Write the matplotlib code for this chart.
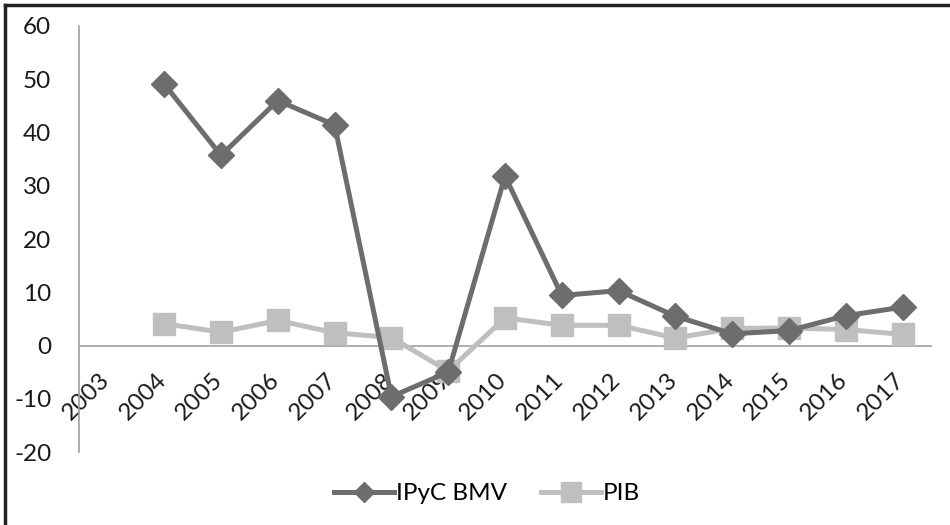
import numpy as np
import matplotlib.pyplot as plt
from matplotlib.transforms import ScaledTranslation
from matplotlib.lines import Line2D

years = [str(y) for y in range(2003, 2018)]
# 2003 has no data in either series
ipyc = [np.nan, 49.1, 35.7, 46.0, 41.4, -9.6, -5.0, 31.8, 9.4, 10.3, 5.5, 2.2, 2.8, 5.6, 7.2]
pib = [np.nan, 4.1, 2.5, 4.7, 2.4, 1.5, -4.8, 5.2, 3.8, 3.8, 1.4, 3.2, 3.3, 3.0, 2.1]

plt.rcParams['font.family'] = ['Lato', 'DejaVu Sans']
plt.rcParams['axes.unicode_minus'] = False

dark = '#6d6d6d'
light = '#bfbfbf'
fs = 17.5

fig = plt.figure(figsize=(9.5, 5.25), dpi=100)
ax = fig.add_axes([0.0832, 0.139, 0.8968, 0.8115])

# spines first: moving the bottom spine resets the ticks
for s in ['top', 'right']:
    ax.spines[s].set_visible(False)
ax.spines['bottom'].set_position(('data', 0))
ax.spines['bottom'].set_color('#a0a0a0')
ax.spines['left'].set_color('#a0a0a0')
ax.spines['bottom'].set_linewidth(1.2)
ax.spines['left'].set_linewidth(1.2)

x = np.arange(len(years))
ax.plot(x, pib, color=light, lw=3.6, marker='s', ms=16, mec=light, mfc=light, zorder=3)
ax.plot(x, ipyc, color=dark, lw=3.6, marker='D', ms=13, mec=dark, mfc=dark, zorder=4)

ax.set_xlim(-0.5, len(years) - 0.5)
ax.set_ylim(-20, 60)
ax.set_yticks(np.arange(-20, 61, 10))
ax.tick_params(axis='y', length=0, pad=20, labelsize=fs, colors='#1a1a1a')
ax.tick_params(axis='x', length=0, pad=17, labelsize=fs, colors='#1a1a1a')

ax.set_xticks(x)
ax.set_xticklabels(years)
offset = ScaledTranslation(6 / 100, 0, fig.dpi_scale_trans)
for lbl in ax.get_xticklabels():
    lbl.set_rotation(45)
    lbl.set_ha('right')
    lbl.set_va('top')
    lbl.set_transform(lbl.get_transform() + offset)

handles = [
    Line2D([], [], color=dark, lw=3.6, marker='D', ms=10, mec=dark, mfc=dark),
    Line2D([], [], color=light, lw=3.6, marker='s', ms=15, mec=light, mfc=light),
]
fig.legend(handles, ['IPyC BMV', 'PIB'], loc='center', bbox_to_anchor=(0.513, 0.06),
           ncol=2, frameon=False, fontsize=fs, handlelength=2.45, handletextpad=0.1,
           columnspacing=1.4)

# frame lines along the top and left edge of the picture
fig.add_artist(Line2D([0.005, 1.0], [0.99, 0.99], transform=fig.transFigure, color='#222222', lw=2.5))
fig.add_artist(Line2D([0.0055, 0.0055], [0.0, 0.99], transform=fig.transFigure, color='#222222', lw=2.5))

fig.savefig('out.png', dpi=100)
